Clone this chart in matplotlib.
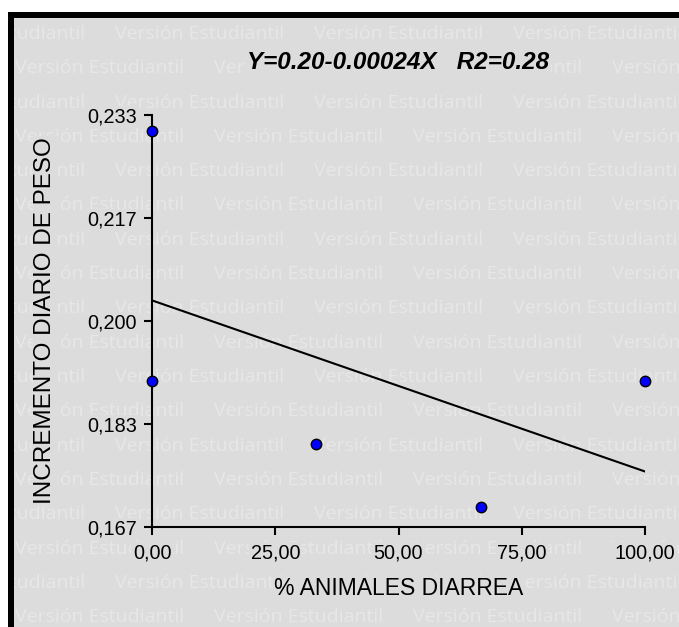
import numpy as np
import matplotlib
matplotlib.use("Agg")
import matplotlib.pyplot as plt
from matplotlib.patches import Rectangle

# % animales con diarrea vs incremento diario de peso
pct_diarrea = [0.0, 0.0, 33.33, 66.67, 100.0]
incremento = [0.2307, 0.1903, 0.1801, 0.1699, 0.1903]

x_ticks = [0, 25, 50, 75, 100]
x_ticklabels = ["0,00", "25,00", "50,00", "75,00", "100,00"]
y_ticks = [1 / 6, 11 / 60, 0.2, 13 / 60, 7 / 30]
y_ticklabels = ["0,167", "0,183", "0,200", "0,217", "0,233"]

titulo = "Y=0.20-0.00024X   R2=0.28"
marca = "Versión Estudiantil"

W, H = 679, 627
BG = "#dcdcdc"
MARK = "#e7e7e7"
FONT = "Liberation Sans"

fig = plt.figure(figsize=(W / 100, H / 100), dpi=100)
fig.patch.set_facecolor(BG)

# white margin + black frame on top and left
def px_rect(x0, y0, x1, y1, color, z):
    fig.add_artist(Rectangle((x0 / W, 1 - y1 / H), (x1 - x0) / W, (y1 - y0) / H,
                             transform=fig.transFigure, facecolor=color,
                             edgecolor="none", zorder=z))

px_rect(0, 0, W, 12, "white", -1)
px_rect(0, 0, 8, H, "white", -1)
px_rect(8, 12, W, 18, "black", -1)
px_rect(8, 12, 14, H, "black", -1)

# watermark rows
for k in range(18):
    yb = 39 + 34.3 * k
    x0 = 115 if k % 2 == 0 else 15
    xs = x0 - 199
    while xs < W:
        fig.text(xs / W, 1 - yb / H, marca, color=MARK, fontsize=14,
                 family="Open Sans", va="baseline", ha="left", zorder=-2)
        xs += 199

ax = fig.add_axes([152 / W, 1 - 527 / H, (645 - 152) / W, (527 - 115) / H])
ax.set_facecolor("none")

coef = np.polyfit(pct_diarrea, incremento, 1)
xl = np.array([0, 100])
ax.plot(xl, np.polyval(coef, xl), color="black", lw=1.5, zorder=2)
ax.plot(pct_diarrea, incremento, "o", ms=7.5, mfc="#0000ff", mec="black",
        mew=1, zorder=3, clip_on=False)

ax.set_xlim(0, 100)
ax.set_ylim(y_ticks[0], y_ticks[-1])
for s in ["top", "right"]:
    ax.spines[s].set_visible(False)
for s in ["left", "bottom"]:
    ax.spines[s].set_linewidth(1.5)

lbl_box = dict(facecolor=BG, edgecolor="none", pad=1)
ax.set_xticks(x_ticks)
ax.set_xticklabels(x_ticklabels, fontsize=14.3, family=FONT)
ax.set_yticks(y_ticks)
ax.set_yticklabels(y_ticklabels, fontsize=14.3, family=FONT)
ax.tick_params(axis="x", direction="out", length=6, width=1.5, pad=6)
ax.tick_params(axis="y", direction="out", length=6, width=1.5, pad=5)
for t in ax.get_xticklabels() + ax.get_yticklabels():
    t.set_bbox(lbl_box)

ax.set_xlabel("% ANIMALES DIARREA", fontsize=16.5, family=FONT, labelpad=10,
              bbox=lbl_box)
ax.set_ylabel("INCREMENTO DIARIO DE PESO", fontsize=17.5, family=FONT,
              labelpad=22, bbox=lbl_box)

fig.text(398 / W, 1 - 69 / H, titulo, fontsize=17.5, family=FONT,
         fontweight="bold", fontstyle="italic", ha="center", va="baseline",
         bbox=lbl_box)

fig.savefig("out.png", dpi=100, facecolor=BG)
